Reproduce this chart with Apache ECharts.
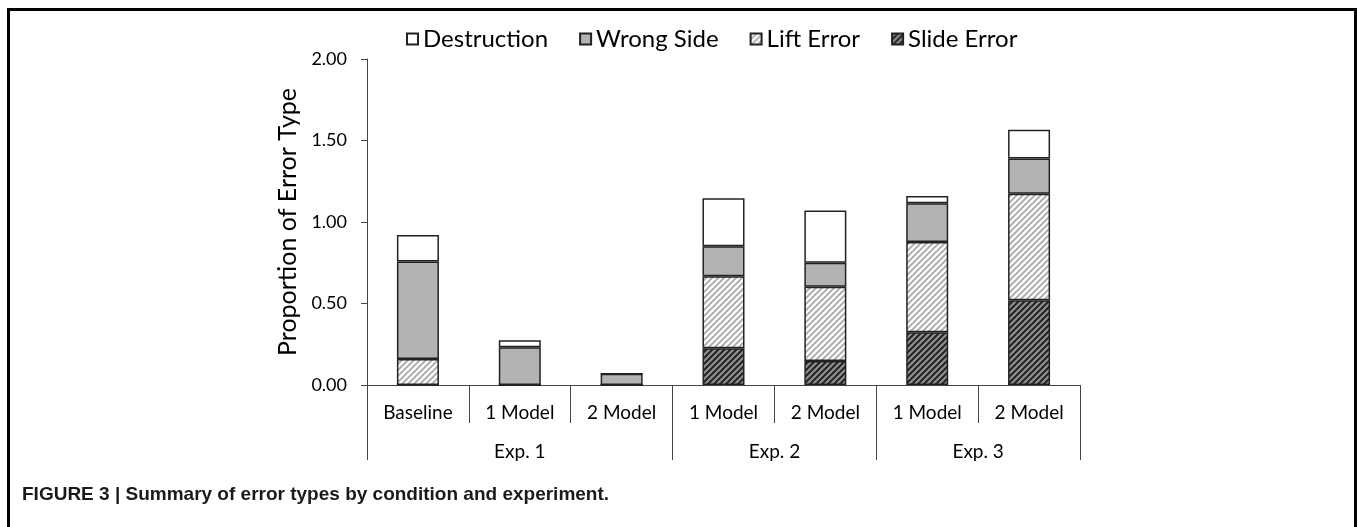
<!DOCTYPE html>
<html>
<head>
<meta charset="utf-8">
<script src="https://cdn.jsdelivr.net/npm/echarts@6/dist/echarts.min.js"></script>
<style>
  html, body { margin: 0; padding: 0; background: #fff; }
  #frame { position: absolute; left: 7px; top: 8px; width: 1350px; height: 700px;
           border-top: 3px solid #000; border-left: 3px solid #000; box-sizing: border-box; }
  #frame2 { position: absolute; left: 1354px; top: 8px; width: 3px; height: 600px; background: #000; }
  #chart { position: absolute; left: 0; top: 0; width: 1357px; height: 527px; }
</style>
</head>
<body>
<div id="frame"></div>
<div id="frame2"></div>
<div id="chart"></div>
<script>
// ---- data ----
const categories = ['Baseline', '1 Model', '2 Model', '1 Model', '2 Model', '1 Model', '2 Model'];
const groups = ['Exp. 1', 'Exp. 2', 'Exp. 3'];
const groupSpans = [3, 2, 2];
const slideError = [0, 0, 0, 0.225, 0.147, 0.323, 0.52];
const liftError = [0.16, 0, 0, 0.442, 0.456, 0.554, 0.654];
const wrongSide = [0.597, 0.231, 0.069, 0.184, 0.147, 0.238, 0.216];
const destruction = [0.163, 0.043, 0, 0.294, 0.32, 0.045, 0.176];
const yTicks = [0, 0.5, 1, 1.5, 2];
const seriesNames = ['Destruction', 'Wrong Side', 'Lift Error', 'Slide Error'];
const caption = 'FIGURE 3 | Summary of error types by condition and experiment.';

// ---- patterns ----
function makeHatch(bg, fg, size, lw) {
  const c = document.createElement('canvas');
  c.width = size; c.height = size;
  const ctx = c.getContext('2d');
  ctx.fillStyle = bg; ctx.fillRect(0, 0, size, size);
  ctx.strokeStyle = fg; ctx.lineWidth = lw;
  ctx.beginPath();
  ctx.moveTo(-1, size + 1); ctx.lineTo(size + 1, -1);
  ctx.moveTo(-size / 2 - 1, size / 2 + 1); ctx.lineTo(size / 2 + 1, -size / 2 - 1);
  ctx.moveTo(size / 2 - 1, size * 1.5 + 1); ctx.lineTo(size * 1.5 + 1, size / 2 - 1);
  ctx.stroke();
  return c;
}
const liftPattern = { image: makeHatch('#ffffff', '#a9a9a9', 6, 1.9), repeat: 'repeat' };
const slidePattern = { image: makeHatch('#8c8c8c', '#1c1c1c', 6, 1.9), repeat: 'repeat' };

// group boundaries / centres derived from spans
const groupBounds = [0];
groupSpans.forEach(s => groupBounds.push(groupBounds[groupBounds.length - 1] + s));
const groupCenters = groups.map((g, i) => (groupBounds[i] + groupBounds[i + 1]) / 2);

const FONT = 'Lato';
const axisColor = '#444';
const border = { borderColor: '#222', borderWidth: 1.5 };

const chart = echarts.init(document.getElementById('chart'), null, { renderer: 'canvas' });
chart.setOption({
  animation: false,
  backgroundColor: 'transparent',
  title: {
    text: caption, left: 17, top: 480,
    textStyle: { fontFamily: 'Liberation Sans', fontWeight: 'bold', fontSize: 19, color: '#1a1a1a' }
  },
  legend: {
    data: seriesNames, left: 401, top: 22, itemWidth: 11, itemHeight: 11, itemGap: 31, icon: 'rect',
    textStyle: { fontFamily: FONT, fontSize: 24, color: '#000' }
  },
  grid: { left: 367, right: 277, top: 59, bottom: 142, containLabel: false },
  xAxis: [
    {
      type: 'category', data: categories, position: 'bottom',
      axisLine: { show: true, lineStyle: { color: axisColor, width: 1 } },
      axisTick: { show: true, interval: 0, length: 38, lineStyle: { color: axisColor } },
      axisLabel: { interval: 0, margin: 18, fontFamily: FONT, fontSize: 19, color: '#000' }
    },
    {
      type: 'value', min: 0, max: categories.length, position: 'bottom', offset: 38,
      axisLine: { show: false },
      splitLine: { show: false },
      axisTick: { show: true, customValues: groupBounds, length: 37, lineStyle: { color: axisColor } },
      axisLabel: {
        customValues: groupCenters, margin: 19, fontFamily: FONT, fontSize: 19, color: '#000',
        formatter: v => groups[groupCenters.indexOf(v)]
      }
    }
  ],
  yAxis: {
    type: 'value', min: yTicks[0], max: yTicks[yTicks.length - 1], interval: yTicks[1] - yTicks[0],
    name: 'Proportion of Error Type', nameLocation: 'middle', nameGap: 66,
    nameTextStyle: { fontFamily: FONT, fontSize: 25, color: '#000' },
    axisLine: { show: true, lineStyle: { color: axisColor } },
    axisTick: { show: true, length: 6, lineStyle: { color: axisColor } },
    splitLine: { show: false },
    axisLabel: { margin: 20, fontFamily: FONT, fontSize: 18, color: '#000', formatter: v => v.toFixed(2) }
  },
  series: [
    { name: 'Slide Error', type: 'bar', stack: 'all', barWidth: 42, data: slideError,
      itemStyle: Object.assign({ color: slidePattern }, border) },
    { name: 'Lift Error', type: 'bar', stack: 'all', barWidth: 42, data: liftError,
      itemStyle: Object.assign({ color: liftPattern }, border) },
    { name: 'Wrong Side', type: 'bar', stack: 'all', barWidth: 42, data: wrongSide,
      itemStyle: Object.assign({ color: '#b3b3b3' }, border) },
    { name: 'Destruction', type: 'bar', stack: 'all', barWidth: 42, data: destruction,
      itemStyle: Object.assign({ color: '#ffffff' }, border) }
  ]
});
</script>
</body>
</html>
